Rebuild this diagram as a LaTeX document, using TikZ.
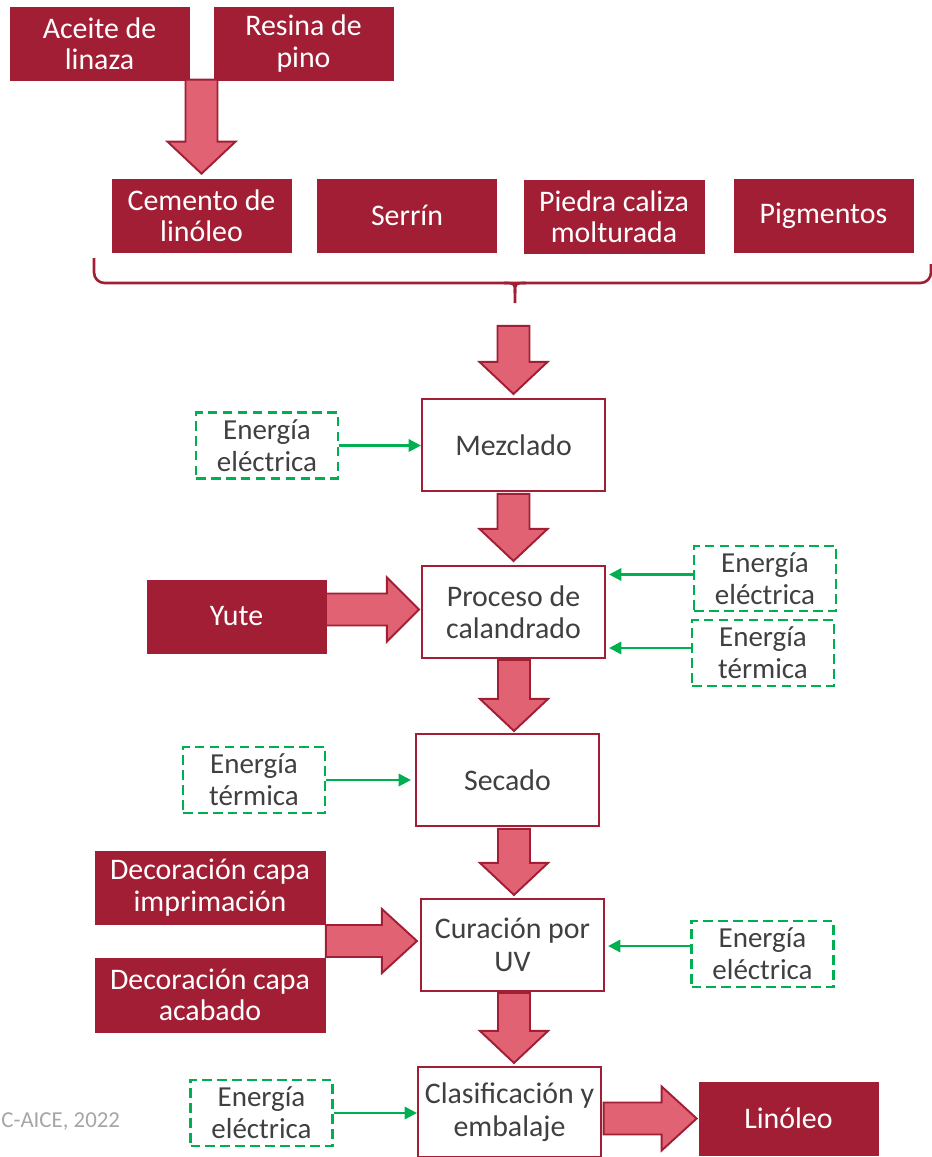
\documentclass[tikz,border=0pt]{standalone}
\usepackage{fontspec}
\setmainfont{Carlito}
\usetikzlibrary{arrows.meta,calc}

\definecolor{vino}{HTML}{A21E35}
\definecolor{rosa}{HTML}{E06273}
\definecolor{verde}{HTML}{00B050}
\definecolor{texto}{HTML}{404040}

\tikzset{
  ingr/.style={fill=vino, draw=vino, text=white, align=center,
    minimum width=179\px, minimum height=73\px, inner sep=0pt,
    font=\fontsize{17}{17.8}\selectfont},
  proc/.style={fill=white, draw=vino, line width=1.2pt, text=texto, align=center,
    minimum width=183\px, minimum height=92\px, inner sep=0pt,
    font=\fontsize{17}{18.5}\selectfont},
  energ/.style={draw=verde, dash pattern=on 5.5pt off 3pt, line width=1.5pt,
    text=texto, align=center, minimum width=142\px, minimum height=66\px,
    inner sep=0pt, font=\fontsize{16.5}{18.3}\selectfont},
  earrow/.style={draw=verde, line width=1.4pt, -{Triangle[length=7pt,width=7pt]}},
  blk/.style={fill=rosa, draw=vino, line width=1.1pt, line join=miter},
  brace/.style={draw=vino, line width=1.5pt},
}
\newcommand{\px}{*0.02cm}

% block arrows: tip, total length (and head length)
\newcommand{\downblk}[2]{%
  \draw[blk] #1 -- ++(-34,-32) -- ++(18,0) -- ++(0,{-(#2-32)}) -- ++(32,0)
    -- ++(0,{#2-32}) -- ++(18,0) -- cycle;}
\newcommand{\rightblk}[3]{%
  \draw[blk] #1 -- ++(-#3,-32) -- ++(0,16) -- ++({-(#2-#3)},0) -- ++(0,32)
    -- ++({#2-#3},0) -- ++(0,16) -- cycle;}

\begin{document}
\begin{tikzpicture}[x=0.02cm, y=-0.02cm]
  \useasboundingbox (0,0) rectangle (932,1157);

  % Raw materials
  \node[ingr] (aceite) at (99.5,43.5) {Aceite de\\linaza};
  \node[ingr] (resina) at (303.5,43.5) {Resina de\\pino};
  \node[ingr] (cemento) at (201.5,215.5) {Cemento de\\linóleo};
  \node[ingr] (serrin) at (407,215.5) {Serrín};
  \node[ingr, minimum width=180\px] (piedra) at (614,216.5) {Piedra caliza\\molturada};
  \node[ingr] (pigmentos) at (823.5,215.5) {Pigmentos};

  % Process steps
  \node[proc] (mezclado) at (513.5,445) {Mezclado};
  \node[proc] (proceso) at (513.5,612) {Proceso de\\calandrado};
  \node[proc] (secado) at (507.5,780) {Secado};
  \node[proc] (curacion) at (512.5,945) {Curación por\\UV};
  \node[proc, minimum height=90\px] (clasif) at (509.5,1112) {Clasificación y\\embalaje};

  % Other inputs and product
  \node[ingr] (yute) at (236.5,616.5) {Yute};
  \node[ingr, minimum width=230\px] (decoImp) at (210,887.5) {Decoración capa\\imprimación};
  \node[ingr, minimum width=230\px, minimum height=74\px] (decoAca) at (210,995) {Decoración capa\\acabado};
  \node[ingr] (linoleo) at (788.5,1118.5) {Linóleo};

  % Energy
  \node[energ] (eMez) at (267,445.5) {Energía\\eléctrica};
  \node[energ, minimum height=65\px] (eProcElec) at (765,578.5) {Energía\\eléctrica};
  \node[energ] (eProcTerm) at (763,653) {Energía\\térmica};
  \node[energ] (eSec) at (254,780) {Energía\\térmica};
  \node[energ] (eCur) at (762.5,954) {Energía\\eléctrica};
  \node[energ] (eClas) at (261.5,1113) {Energía\\eléctrica};

  % Source
  \node[anchor=west, text=black!35, font=\fontsize{13}{15}\selectfont, inner sep=0pt]
    (fuente) at (1,1122) {C-AICE, 2022};

  % Brace under the raw materials
  \draw[brace, rounded corners=6] (94,258) -- (94,283) -- (931,283) -- (931,264);
  \draw[brace] (504,283) .. controls (515,283) .. (515,293) -- (515,303);
  \draw[brace] (526,283) .. controls (515,283) .. (515,293);

  % Block arrows
  \downblk{($(cemento.north)+(0,-5)$)}{94}
  \downblk{($(mezclado.north)+(0,-4)$)}{68}
  \downblk{($(proceso.north)+(0,-4)$)}{67}
  \downblk{($(secado.north)+(6.5,-2)$)}{71}
  \downblk{($(curacion.north)+(1.5,-3)$)}{66}
  \downblk{($(clasif.north)+(4.5,-3)$)}{70}
  \rightblk{($(proceso.west |- yute.east)+(-2,-7)$)}{93}{32}
  \rightblk{($(curacion.west)+(-3,-4)$)}{91}{35}
  \rightblk{($(linoleo.west)+(-2,0)$)}{93}{35}

  % Energy flows
  \draw[earrow] (eMez.east) -- (mezclado.west |- eMez.east);
  \draw[earrow] ($(eProcElec.west)+(0,-4)$) -- ($(proceso.east |- eProcElec.west)+(3,-4)$);
  \draw[earrow] ($(eProcTerm.west)+(0,-5)$) -- ($(proceso.east |- eProcTerm.west)+(3,-5)$);
  \draw[earrow] (eSec.east) -- ($(secado.west |- eSec.east)+(-4,0)$);
  \draw[earrow] ($(eCur.west)+(0,-8)$) -- ($(curacion.east |- eCur.west)+(3,-8)$);
  \draw[earrow] (eClas.east) -- (clasif.west |- eClas.east);
\end{tikzpicture}
\end{document}
